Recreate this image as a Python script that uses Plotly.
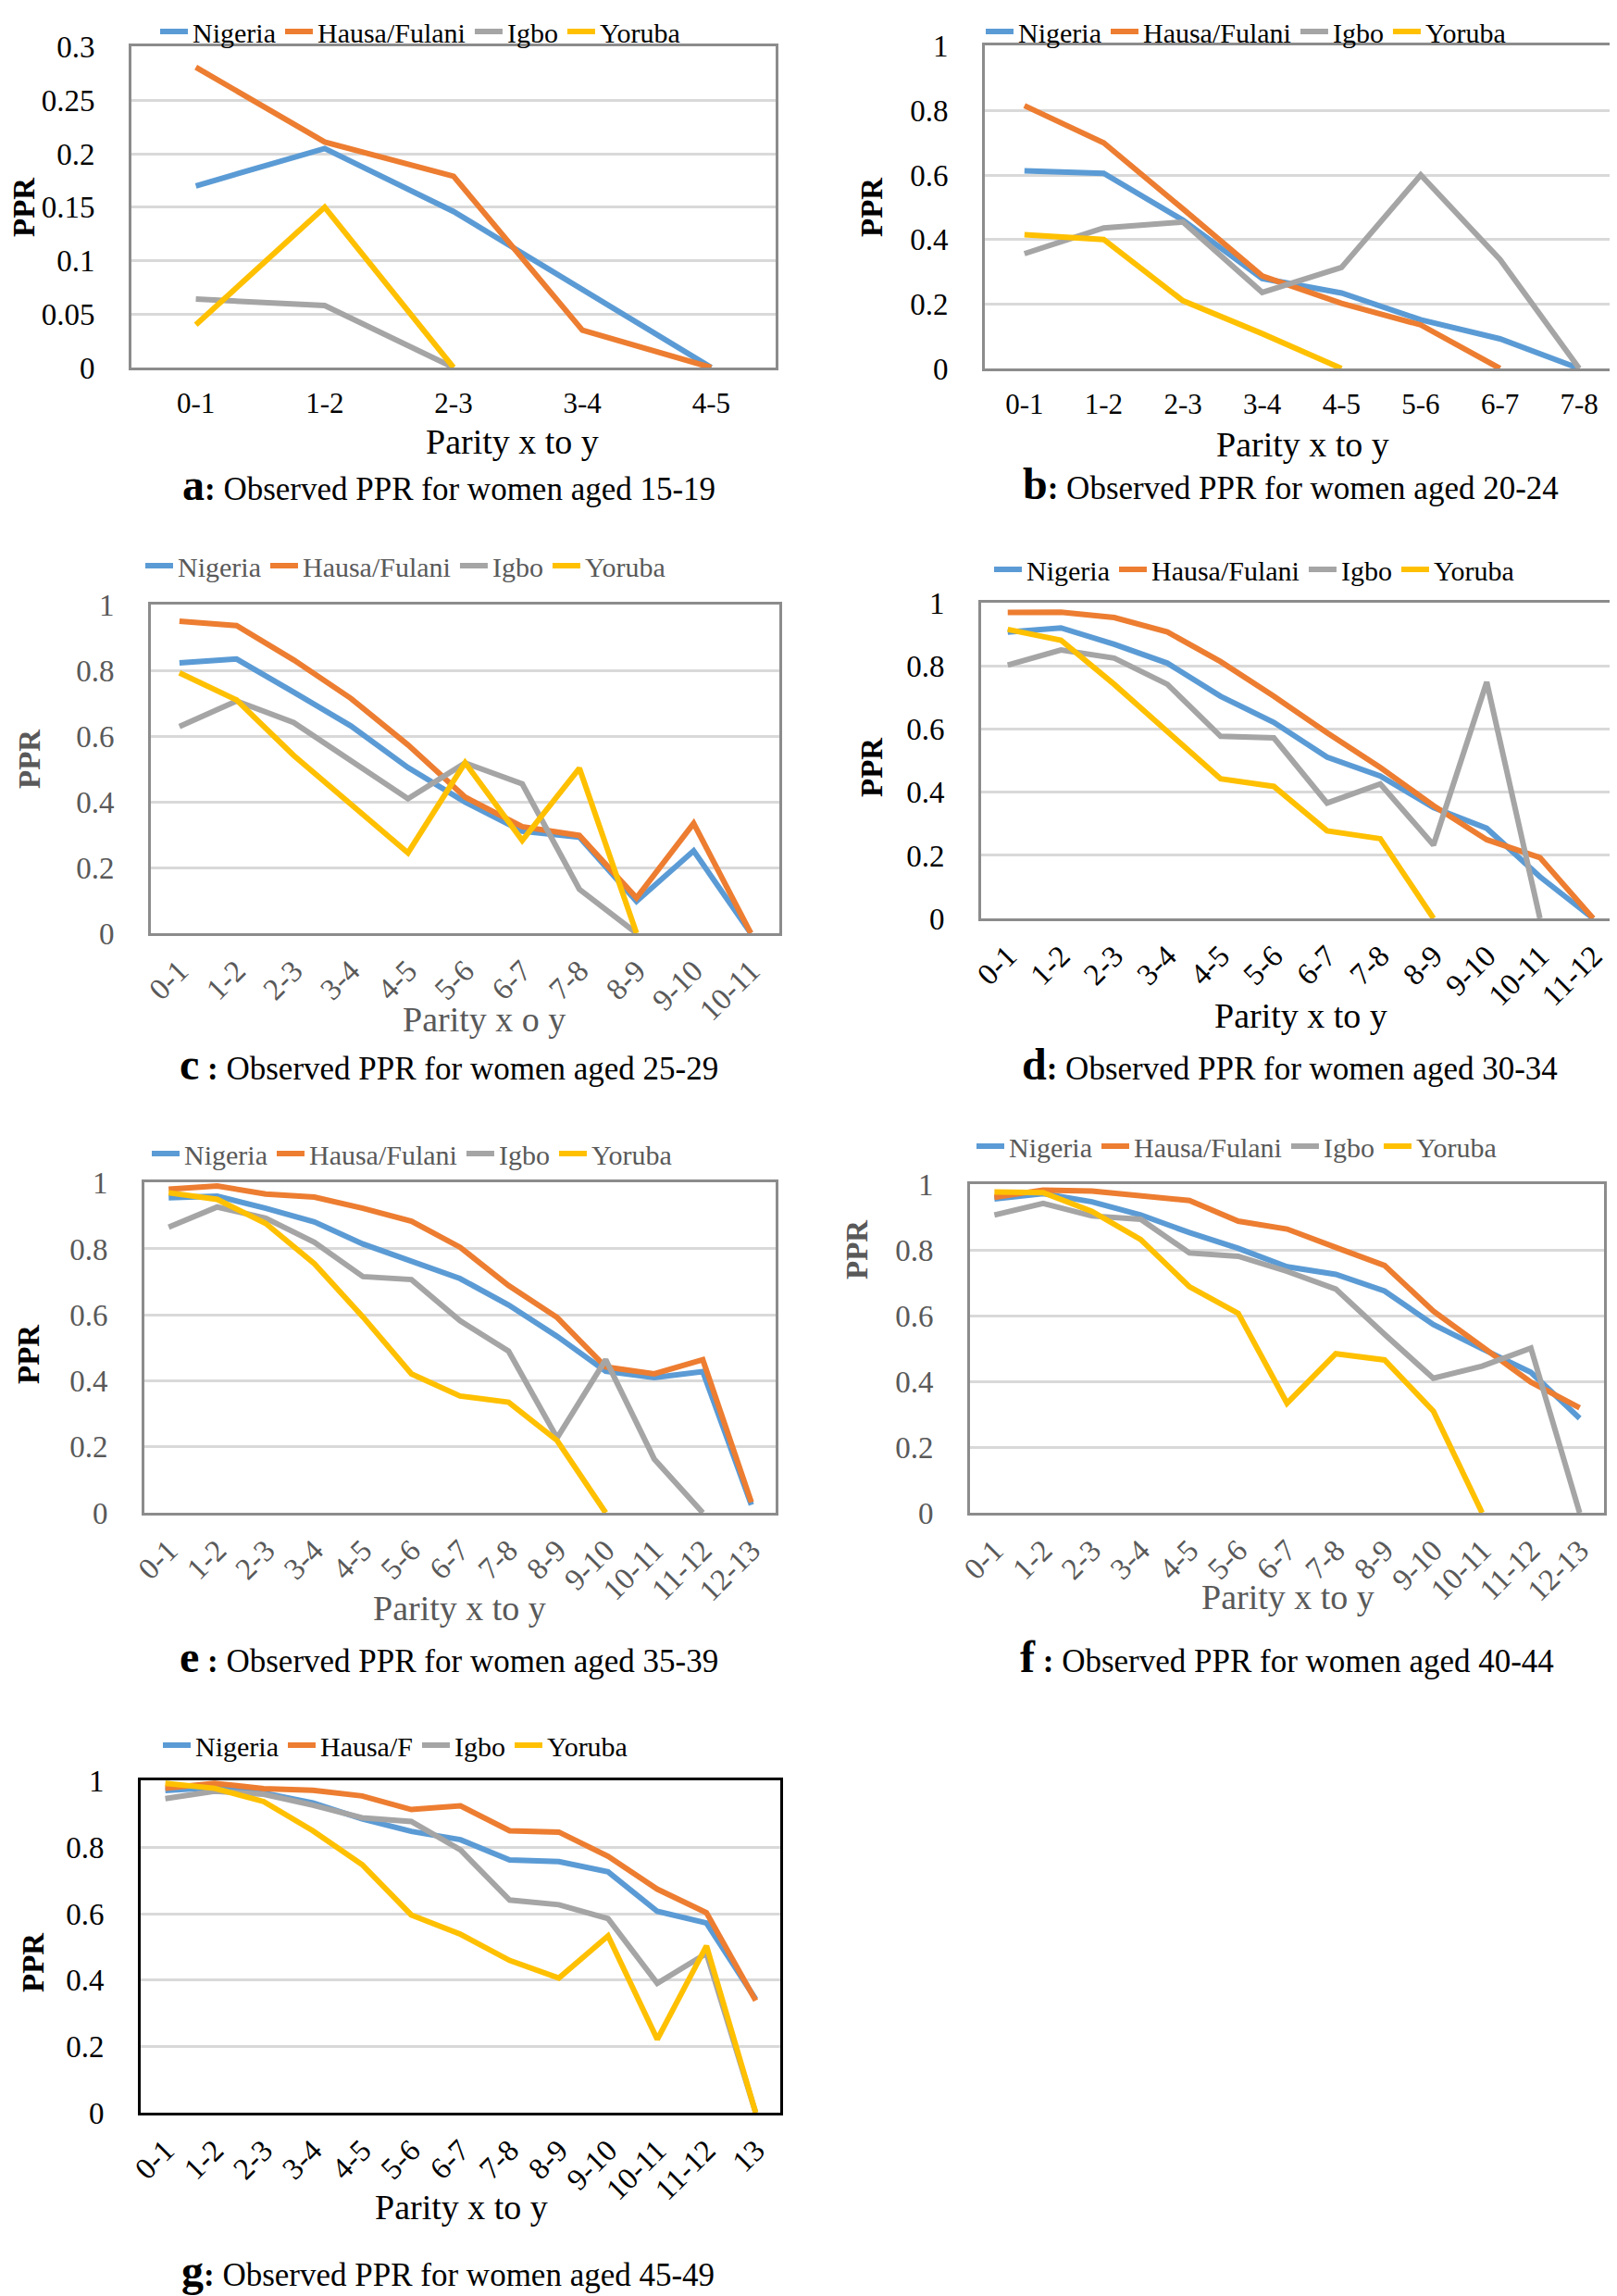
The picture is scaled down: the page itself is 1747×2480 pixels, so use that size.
import plotly.graph_objects as go

W, H = 1747, 2480

series_names = ["Nigeria", "Hausa/Fulani", "Igbo", "Yoruba"]
series_names_g = ["Nigeria", "Hausa/F", "Igbo", "Yoruba"]
colors = ["#5B9BD5", "#ED7D31", "#A5A5A5", "#FFC000"]

ticks_small = [0, 0.05, 0.1, 0.15, 0.2, 0.25, 0.3]
ticks_unit = [0, 0.2, 0.4, 0.6, 0.8, 1]

# ---- a: women aged 15-19
cats_a = ["0-1", "1-2", "2-3", "3-4", "4-5"]
nigeria_a = [0.170, 0.205, 0.146, 0.073, 0.0]
hausa_a = [0.281, 0.211, 0.179, 0.035, 0.0]
igbo_a = [0.064, 0.058, 0.0]
yoruba_a = [0.040, 0.150, 0.0]

# ---- b: women aged 20-24
cats_b = ["0-1", "1-2", "2-3", "3-4", "4-5", "5-6", "6-7", "7-8"]
nigeria_b = [0.613, 0.605, 0.460, 0.279, 0.234, 0.151, 0.092, 0.0]
hausa_b = [0.815, 0.700, 0.495, 0.287, 0.202, 0.135, 0.0]
igbo_b = [0.356, 0.436, 0.454, 0.236, 0.313, 0.600, 0.338, 0.0]
yoruba_b = [0.415, 0.400, 0.210, 0.108, 0.0]

# ---- c: women aged 25-29
cats_c = ["0-1", "1-2", "2-3", "3-4", "4-5", "5-6", "6-7", "7-8", "8-9", "9-10", "10-11"]
nigeria_c = [0.824, 0.836, 0.735, 0.632, 0.505, 0.400, 0.311, 0.293, 0.097, 0.251, 0.0]
hausa_c = [0.951, 0.938, 0.833, 0.716, 0.574, 0.415, 0.325, 0.298, 0.108, 0.335, 0.0]
igbo_c = [0.630, 0.708, 0.642, 0.526, 0.410, 0.519, 0.455, 0.134, 0.0]
yoruba_c = [0.794, 0.711, 0.542, 0.394, 0.245, 0.520, 0.283, 0.503, 0.0]

# ---- d: women aged 30-34
cats_d = ["0-1", "1-2", "2-3", "3-4", "4-5", "5-6", "6-7", "7-8", "8-9", "9-10", "10-11", "11-12"]
nigeria_d = [0.909, 0.922, 0.870, 0.810, 0.705, 0.622, 0.512, 0.452, 0.352, 0.286, 0.132, 0.0]
hausa_d = [0.971, 0.972, 0.955, 0.909, 0.815, 0.705, 0.589, 0.479, 0.358, 0.250, 0.193, 0.0]
igbo_d = [0.804, 0.852, 0.826, 0.743, 0.578, 0.573, 0.366, 0.427, 0.233, 0.750, 0.0]
yoruba_d = [0.917, 0.883, 0.743, 0.595, 0.443, 0.419, 0.278, 0.253, 0.0]

# ---- e: women aged 35-39
cats_e = ["0-1", "1-2", "2-3", "3-4", "4-5", "5-6", "6-7", "7-8", "8-9", "9-10", "10-11", "11-12", "12-13"]
nigeria_e = [0.955, 0.960, 0.923, 0.882, 0.815, 0.764, 0.710, 0.630, 0.535, 0.429, 0.410, 0.428, 0.024]
hausa_e = [0.981, 0.991, 0.966, 0.957, 0.923, 0.884, 0.805, 0.689, 0.592, 0.442, 0.421, 0.464, 0.032]
igbo_e = [0.866, 0.927, 0.893, 0.820, 0.716, 0.707, 0.582, 0.490, 0.227, 0.464, 0.163, 0.0]
yoruba_e = [0.970, 0.950, 0.877, 0.755, 0.594, 0.421, 0.354, 0.335, 0.219, 0.0]

# ---- f: women aged 40-44
cats_f = ["0-1", "1-2", "2-3", "3-4", "4-5", "5-6", "6-7", "7-8", "8-9", "9-10", "10-11", "11-12", "12-13"]
nigeria_f = [0.957, 0.973, 0.948, 0.908, 0.854, 0.806, 0.750, 0.727, 0.676, 0.574, 0.500, 0.428, 0.288]
hausa_f = [0.962, 0.984, 0.981, 0.965, 0.952, 0.889, 0.865, 0.809, 0.754, 0.615, 0.507, 0.398, 0.320]
igbo_f = [0.908, 0.943, 0.905, 0.895, 0.792, 0.782, 0.736, 0.682, 0.544, 0.410, 0.447, 0.502, 0.0]
yoruba_f = [0.978, 0.976, 0.919, 0.833, 0.689, 0.608, 0.334, 0.485, 0.466, 0.310, 0.0]

# ---- g: women aged 45-49
cats_g = ["0-1", "1-2", "2-3", "3-4", "4-5", "5-6", "6-7", "7-8", "8-9", "9-10", "10-11", "11-12", "13"]
nigeria_g = [0.971, 0.980, 0.964, 0.934, 0.886, 0.848, 0.823, 0.762, 0.757, 0.726, 0.607, 0.572, 0.342]
hausa_g = [0.978, 0.993, 0.977, 0.972, 0.955, 0.914, 0.925, 0.850, 0.846, 0.773, 0.674, 0.603, 0.338]
igbo_g = [0.947, 0.969, 0.960, 0.927, 0.889, 0.878, 0.792, 0.641, 0.627, 0.585, 0.390, 0.480, 0.0]
yoruba_g = [0.993, 0.978, 0.938, 0.850, 0.748, 0.596, 0.538, 0.459, 0.406, 0.533, 0.221, 0.503, 0.0]

BLACK = "#000000"
GREY = "#595959"
FONT = "Liberation Serif"

panels = [
    dict(letter="a", sep=":", title="Observed PPR for women aged 15-19", xtitle="Parity x to y",
         cats=cats_a, data=[nigeria_a, hausa_a, igbo_a, yoruba_a], names=series_names,
         ymax=0.3, tickvals=ticks_small, box=(134, 830, 42, 389), leg=(160, None),
         xt=(545, 469), cap=(477, 515), ppr=(18, 216), txt=BLACK, pprc=BLACK, angle=0,
         border="#8C8C8C"),
    dict(letter="b", sep=":", title="Observed PPR for women aged 20-24", xtitle="Parity x to y",
         cats=cats_b, data=[nigeria_b, hausa_b, igbo_b, yoruba_b], names=series_names,
         ymax=1.0, tickvals=ticks_unit, box=(1056, 1741, 41, 390), leg=(1052, None),
         xt=(1399, 472), cap=(1386, 514), ppr=(934, 216), txt=BLACK, pprc=BLACK, angle=0,
         border="#8C8C8C"),
    dict(letter="c", sep=" :", title="Observed PPR for women aged 25-29", xtitle="Parity x o y",
         cats=cats_c, data=[nigeria_c, hausa_c, igbo_c, yoruba_c], names=series_names,
         ymax=1.0, tickvals=ticks_unit, box=(155, 834, 645, 1000), leg=(144, 603),
         xt=(515, 1093), cap=(477, 1141), ppr=(24, 812), txt=GREY, pprc=GREY, angle=-45,
         border="#8C8C8C"),
    dict(letter="d", sep=":", title="Observed PPR for women aged 30-34", xtitle="Parity x to y",
         cats=cats_d, data=[nigeria_d, hausa_d, igbo_d, yoruba_d], names=series_names,
         ymax=1.0, tickvals=ticks_unit, box=(1052, 1742, 643, 984), leg=(1061, 607),
         xt=(1397, 1089), cap=(1385, 1141), ppr=(934, 821), txt=BLACK, pprc=BLACK, angle=-45,
         border="#8C8C8C"),
    dict(letter="e", sep=" :", title="Observed PPR for women aged 35-39", xtitle="Parity x to y",
         cats=cats_e, data=[nigeria_e, hausa_e, igbo_e, yoruba_e], names=series_names,
         ymax=1.0, tickvals=ticks_unit, box=(148, 830, 1269, 1626), leg=(151, 1238),
         xt=(489, 1729), cap=(477, 1781), ppr=(23, 1455), txt=GREY, pprc=BLACK, angle=-45,
         border="#8C8C8C"),
    dict(letter="f", sep=" :", title="Observed PPR for women aged 40-44", xtitle="Parity x to y",
         cats=cats_f, data=[nigeria_f, hausa_f, igbo_f, yoruba_f], names=series_names,
         ymax=1.0, tickvals=ticks_unit, box=(1040, 1725, 1271, 1626), leg=(1042, 1230),
         xt=(1383, 1717), cap=(1382, 1781), ppr=(918, 1341), txt=GREY, pprc=GREY, angle=-45,
         border="#8C8C8C"),
    dict(letter="g", sep=":", title="Observed PPR for women aged 45-49", xtitle="Parity x to y",
         cats=cats_g, data=[nigeria_g, hausa_g, igbo_g, yoruba_g], names=series_names_g,
         ymax=1.0, tickvals=ticks_unit, box=(144, 835, 1915, 2274), leg=(163, 1877),
         xt=(490, 2376), cap=(476, 2444), ppr=(28, 2112), txt=BLACK, pprc=BLACK, angle=-45,
         border="#000000"),
]

fig = go.Figure()
layout = dict(
    width=W, height=H,
    margin=dict(l=0, r=0, t=0, b=0, autoexpand=False),
    paper_bgcolor="white", plot_bgcolor="white",
    font=dict(family=FONT, color=BLACK),
    annotations=[],
)

for i, p in enumerate(panels):
    n = i + 1
    sfx = "" if n == 1 else str(n)
    xa, ya = "x" + sfx, "y" + sfx
    legname = "legend" + sfx
    for name, vals, col in zip(p["names"], p["data"], colors):
        fig.add_trace(go.Scatter(
            x=p["cats"][:len(vals)], y=vals, mode="lines", name=name,
            line=dict(color=col, width=6), xaxis=xa, yaxis=ya, legend=legname,
            hoverinfo="x+y+name",
        ))
    l, r, t, b = p["box"]
    ncat = len(p["cats"])
    layout["xaxis" + sfx] = dict(
        type="category", categoryorder="array", categoryarray=p["cats"],
        range=[-0.5, ncat - 0.5], domain=[l / W, r / W], anchor=ya,
        showline=True, mirror=True, linecolor=p["border"], linewidth=3,
        showgrid=False, zeroline=False, ticks="", tickangle=p["angle"],
        tickfont=dict(family=FONT, size=31 if p["angle"] == 0 else 33, color=p["txt"]),
        ticklabelstandoff=9 if p["angle"] == 0 else 5,
    )
    layout["yaxis" + sfx] = dict(
        range=[0, p["ymax"] * 1.002], domain=[1 - b / H, 1 - t / H], anchor=xa,
        showline=True, mirror=True, linecolor=p["border"], linewidth=3,
        showgrid=True, gridcolor="#D9D9D9", gridwidth=3, zeroline=False,
        tickmode="array", tickvals=p["tickvals"], ticks="",
        tickfont=dict(family=FONT, size=33, color=p["txt"]),
        ticklabelstandoff=30,
    )
    lx, ly = p["leg"]
    if ly is None:
        ypos, yanc = 1.0, "top"
    else:
        ypos, yanc = 1 - ly / H, "middle"
    layout[legname] = dict(
        orientation="h", x=lx / W, y=ypos, xanchor="left", yanchor=yanc,
        font=dict(family=FONT, size=30, color=p["txt"]), bgcolor="rgba(0,0,0,0)",
        borderwidth=0, itemwidth=30, traceorder="normal",
    )
    cx, cy = p["xt"]
    layout["annotations"].append(dict(
        text=p["xtitle"], x=cx / W, y=1 - cy / H, xref="paper", yref="paper",
        xanchor="center", yanchor="middle", showarrow=False,
        font=dict(family=FONT, size=38, color=p["txt"]),
    ))
    capx, capy = p["cap"]
    layout["annotations"].append(dict(
        text="<span style='font-size:48px'><b>" + p["letter"] + "</b></span><b>" + p["sep"] + "</b> " + p["title"],
        x=capx / W, y=1 - capy / H, xref="paper", yref="paper",
        xanchor="center", yanchor="middle", showarrow=False,
        font=dict(family=FONT, size=35, color=BLACK),
    ))
    px_, py_ = p["ppr"]
    layout["annotations"].append(dict(
        text="<b>PPR</b>", x=px_ / W, y=1 - py_ / H, xref="paper", yref="paper",
        xanchor="center", yanchor="middle", showarrow=False, textangle=-90,
        font=dict(family=FONT, size=33, color=p["pprc"]),
    ))

fig.update_layout(**layout)
fig.write_html("out.html")
